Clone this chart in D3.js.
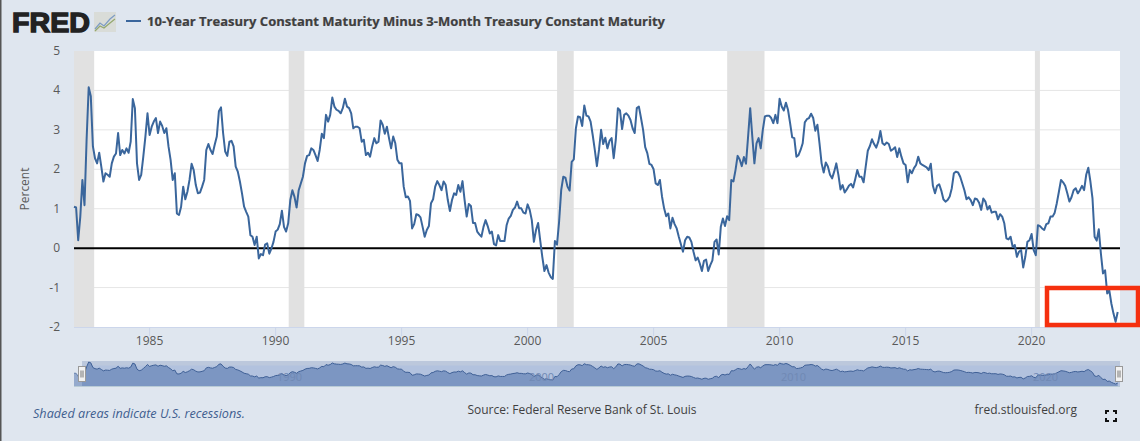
<!DOCTYPE html>
<html><head><meta charset="utf-8">
<script src="https://cdn.jsdelivr.net/npm/d3@7"></script>
<style>html,body{margin:0;padding:0;background:#dfe6ef;overflow:hidden}svg{display:block}text{font-family:"Open Sans",sans-serif}</style>
</head><body><svg id="c" width="1140" height="441"></svg>
<script>
const startYear = 1982;
const spread1982to1994 = [1.05,1.03,0.2,0.8,1.73,1.09,2.75,4.08,3.85,2.58,2.28,2.15,2.42,2.07,1.69,1.9,1.86,1.81,2.15,2.32,2.4,2.92,2.36,2.49,2.4,2.53,2.42,2.7,3.78,3.55,2.15,1.73,1.86,2.32,2.83,3.42,2.87,3.08,3.21,3.3,2.92,3.21,3.1,2.92,3.04,2.58,2.24,1.73,1.9,0.88,0.84,1.05,1.56,1.24,1.43,1.73,2.14,1.98,1.6,1.39,1.41,1.56,1.73,2.49,2.64,2.49,2.39,2.62,2.83,3.47,3.57,2.92,2.45,2.34,2.7,2.72,2.58,2.07,1.94,1.69,1.39,1.05,0.92,0.8,0.33,0.29,0.08,0.29,-0.26,-0.15,-0.18,0.09,0.12,-0.14,-0.01,0.16,0.42,0.47,0.61,0.95,0.54,0.42,0.63,1.22,1.47,1.3,1.03,1.47,1.64,1.81,2.15,2.34,2.36,2.53,2.49,2.36,2.21,2.49,2.9,2.79,3.38,3.21,3.38,3.82,3.59,3.51,3.48,3.42,3.55,3.79,3.59,3.55,3.42,3.04,3.08,3.08,3.04,2.7,2.75,2.36,2.42,2.32,2.58,2.79,2.66,2.7,3.24,3.13,2.9,3.08,2.79,2.53,2.83,2.66,2.24,2.15];
const spread1995to2010 = [2.15,1.56,1.29,1.31,1.2,0.5,0.61,0.86,0.84,0.78,0.54,0.29,0.46,0.56,1.14,1.24,1.56,1.7,1.6,1.47,1.69,1.6,1.22,0.94,1.22,1.39,1.35,1.6,1.43,1.7,1.22,0.8,1.12,1.07,0.64,0.64,0.42,0.35,0.29,0.54,0.71,0.56,0.37,0.42,0.1,0.07,0.33,0.18,0.18,0.18,0.58,0.75,0.82,0.97,1.03,1.18,1.01,1.01,0.9,0.88,1.11,0.97,0.71,0.16,0.46,0.64,0.2,-0.22,-0.58,-0.43,-0.62,-0.73,-0.78,0.18,0.09,0.67,1.47,1.81,1.79,1.56,1.46,2.19,2.25,3.04,3.34,3.32,3.1,3.62,3.36,3.34,3.21,2.87,2.49,2.08,2.49,3.0,2.64,2.8,2.53,2.72,2.79,2.28,2.75,3.55,3.49,3.02,3.38,3.42,3.36,3.25,3.04,2.92,3.55,3.59,3.3,3.0,2.56,2.41,2.14,2.11,2.0,1.64,1.6,1.73,1.31,1.01,0.81,0.88,0.5,0.77,0.61,0.5,0.29,0.1,-0.09,0.2,0.29,0.27,0.16,-0.09,-0.31,-0.24,-0.39,-0.58,-0.32,-0.29,-0.58,-0.43,-0.31,0.16,0.22,-0.16,0.54,0.75,0.56,0.81,0.71,1.73,1.69,1.98,2.34,2.25,2.08,2.31,2.14,2.83,3.55,2.83,2.15,2.66,2.79,2.53,3.0,3.34,3.36,3.36,3.3,3.17,3.38,3.17,3.79,3.59];
const spread2010to2023 = [3.49,3.69,3.51,3.17,2.81,2.79,2.32,2.36,2.49,2.66,3.19,3.27,3.3,3.41,3.3,2.98,3.13,2.66,2.15,1.92,2.17,2.07,1.86,1.77,1.94,2.15,1.86,1.49,1.6,1.41,1.49,1.58,1.63,1.54,1.75,1.98,1.81,1.81,1.67,2.07,2.47,2.59,2.76,2.64,2.55,2.7,2.97,2.66,2.62,2.68,2.64,2.47,2.51,2.56,2.31,2.53,2.32,2.15,2.11,1.67,1.98,1.9,2.03,2.11,2.32,2.15,2.11,2.08,2.05,1.98,2.14,1.58,1.39,1.58,1.62,1.46,1.24,1.18,1.22,1.31,1.52,1.9,1.94,1.92,1.81,1.64,1.47,1.24,1.29,1.22,1.09,1.26,1.24,1.15,0.97,1.26,1.18,0.98,1.07,0.9,0.92,0.92,0.73,0.86,0.8,0.63,0.25,0.22,0.29,0.03,0.08,-0.22,-0.09,-0.05,-0.49,-0.22,0.16,0.2,0.36,-0.05,-0.18,0.58,0.56,0.5,0.46,0.61,0.63,0.8,0.8,0.9,1.14,1.43,1.73,1.67,1.58,1.39,1.18,1.29,1.47,1.52,1.39,1.47,1.58,1.47,1.86,2.04,1.69,1.26,0.29,0.19,0.48,-0.14,-0.64,-0.56,-1.15,-1.07,-1.41,-1.66,-1.87,-1.62];
const spreadValues = spread1982to1994.concat(spread1995to2010, spread2010to2023);
const recessionStarts = [1982.0,1990.52,2001.17,2007.92,2020.13];
const recessionEnds = [1982.8,1991.14,2001.83,2009.4,2020.33];
const yTicks = [-2,-1,0,1,2,3,4,5];
const xTicks = [1985,1990,1995,2000,2005,2010,2015,2020];
const navTicks = [1990,2000,2010,2020];
const seriesTitle = "10-Year Treasury Constant Maturity Minus 3-Month Treasury Constant Maturity";

const svg = d3.select("#c");
const L=74,R=1120,T=51,B=327;
const x = d3.scaleLinear().domain([1982,1982+(R-L)/25.2]).range([L,R]);
const y = d3.scaleLinear().domain([-2,5]).range([B,T]);
const pts = spreadValues.map((v,i)=>({t:startYear+i/12,v}));

svg.append("rect").attr("width",1140).attr("height",441).attr("fill","#dfe6ef");
svg.append("rect").attr("width",1.5).attr("height",441).attr("fill","#555");
svg.append("rect").attr("x",L).attr("y",T).attr("width",R-L).attr("height",B-T).attr("fill","#fff");

// grid
svg.append("g").selectAll("line").data(yTicks.filter(d=>d!==-2&&d!==0&&d!==5)).join("line")
 .attr("x1",L).attr("x2",R).attr("y1",d=>y(d)).attr("y2",d=>y(d)).attr("stroke","#e6e6e6").attr("stroke-width",1);
// recessions
svg.append("g").selectAll("rect").data(recessionStarts).join("rect")
 .attr("x",d=>x(d)).attr("width",(d,i)=>x(recessionEnds[i])-x(d)).attr("y",T).attr("height",B-T).attr("fill","#e1e1e1");
// y labels
svg.append("g").selectAll("text").data(yTicks).join("text")
 .attr("x",60).attr("y",d=>y(d)+4).attr("text-anchor","end").attr("font-size",12).attr("fill","#595959").text(d=>d);
svg.append("text").attr("transform","translate(29,189) rotate(-90)").attr("text-anchor","middle").attr("font-size",12).attr("fill","#595959").text("Percent");
// x axis
svg.append("line").attr("x1",L).attr("x2",R).attr("y1",B+.5).attr("y2",B+.5).attr("stroke","#ccd6eb");
const gx = svg.append("g").selectAll("g").data(xTicks).join("g");
gx.append("line").attr("x1",d=>x(d)).attr("x2",d=>x(d)).attr("y1",B).attr("y2",B+9).attr("stroke","#ccd6eb");
gx.append("text").attr("x",d=>x(d)).attr("y",345).attr("text-anchor","middle").attr("font-size",12).attr("fill","#595959").text(d=>d);

// zero line
svg.append("line").attr("x1",L).attr("x2",R).attr("y1",y(0)).attr("y2",y(0)).attr("stroke","#000").attr("stroke-width",2);
// series
const line = d3.line().x(d=>x(d.t)).y(d=>y(d.v));
svg.append("path").datum(pts).attr("d",line).attr("fill","none").attr("stroke","#3a669c").attr("stroke-width",2).attr("stroke-linejoin","round");

// navigator
const nT=361,nB=386;
const ny = d3.scaleLinear().domain([-2.4,4.35]).range([nB,nT]);
const selL=82;
const defs=svg.append("defs");
const grad=defs.append("linearGradient").attr("id","navBand").attr("x1",0).attr("x2",0).attr("y1",0).attr("y2",1);
grad.append("stop").attr("offset","0").attr("stop-color","#bcc8dc");
grad.append("stop").attr("offset","0.16").attr("stop-color","#bcc8dc");
grad.append("stop").attr("offset","0.2").attr("stop-color","#b2c2de");
grad.append("stop").attr("offset","1").attr("stop-color","#b2c2de");
svg.append("rect").attr("x",selL).attr("y",nT).attr("width",R-selL).attr("height",nB-nT).attr("fill","url(#navBand)");
const area = d3.area().x(d=>x(d.t)).y0(nB).y1(d=>ny(d.v));
svg.append("path").datum(pts).attr("d",area).attr("fill","#7c96c2");
svg.append("path").datum(pts).attr("d",d3.line().x(d=>x(d.t)).y(d=>ny(d.v))).attr("fill","none").attr("stroke","#3f6096").attr("stroke-width",1);
svg.append("line").attr("x1",L).attr("x2",R).attr("y1",nB+.5).attr("y2",nB+.5).attr("stroke","#b9cbd6");
svg.append("rect").attr("x",L).attr("y",nT).attr("width",selL-L).attr("height",nB-nT).attr("fill","#dfe6ef").attr("opacity",.25);
svg.append("g").selectAll("text").data(navTicks).join("text").attr("x",d=>x(d)+14).attr("y",381).attr("text-anchor","middle")
 .attr("font-size",11).attr("fill","#7089b4").text(d=>d);
[selL,R-1].forEach(hx=>{
 const g=svg.append("g").attr("transform",`translate(${hx},366.5)`);
 g.append("rect").attr("x",-3.5).attr("y",0).attr("width",7).attr("height",15).attr("fill","#f2f2f2").attr("stroke","#999");
 g.append("path").attr("d","M-1,4V11M1,4V11").attr("stroke","#777").attr("fill","none");
});

// header
svg.append("text").attr("x",12).attr("y",32).attr("font-size",28).attr("font-weight",900).attr("fill","#222")
 .attr("textLength",78).attr("lengthAdjust","spacingAndGlyphs").style("font-family","'Liberation Sans',sans-serif").attr("stroke","#222").attr("stroke-width",1.4).text("FRED");
const ic=svg.append("g").attr("transform","translate(94,12)");
ic.append("rect").attr("width",22).attr("height",20).attr("fill","#d9dcd8");
ic.append("path").attr("d","M1,17L6,11L10,14L16,7L21,3").attr("fill","none").attr("stroke","#7c9cc4").attr("stroke-width",1.2);
ic.append("path").attr("d","M1,19L6,14L10,16L16,11L21,7").attr("fill","none").attr("stroke","#94a86e").attr("stroke-width",1.2);
svg.append("line").attr("x1",126).attr("x2",141).attr("y1",21).attr("y2",21).attr("stroke","#3a669c").attr("stroke-width",2);
svg.append("text").attr("x",147).attr("y",25.5).attr("font-size",12).attr("font-weight",700).attr("fill","#3f3f3f").attr("stroke","#3f3f3f").attr("stroke-width",0.2)
 .attr("textLength",518).attr("lengthAdjust","spacingAndGlyphs").text(seriesTitle);

// footer
svg.append("text").attr("x",33).attr("y",418).attr("font-size",12.65).attr("font-style","italic").attr("fill","#3f5f8f").text("Shaded areas indicate U.S. recessions.");
svg.append("text").attr("x",582).attr("y",414).attr("text-anchor","middle").attr("font-size",12).attr("fill","#3f3f3f").text("Source: Federal Reserve Bank of St. Louis");
svg.append("text").attr("x",1077).attr("y",414).attr("text-anchor","end").attr("font-size",12).attr("fill","#3f3f3f").text("fred.stlouisfed.org");
svg.append("path").attr("d","M1106,414V411H1109M1113,411H1116V414M1116,418V421H1113M1109,421H1106V418").attr("fill","none").attr("stroke","#111").attr("stroke-width",2);

// annotation box
svg.append("rect").attr("x",1047).attr("y",288).attr("width",91).attr("height",37).attr("fill","none").attr("stroke","#f5300f").attr("stroke-width",4.5);
</script></body></html>
